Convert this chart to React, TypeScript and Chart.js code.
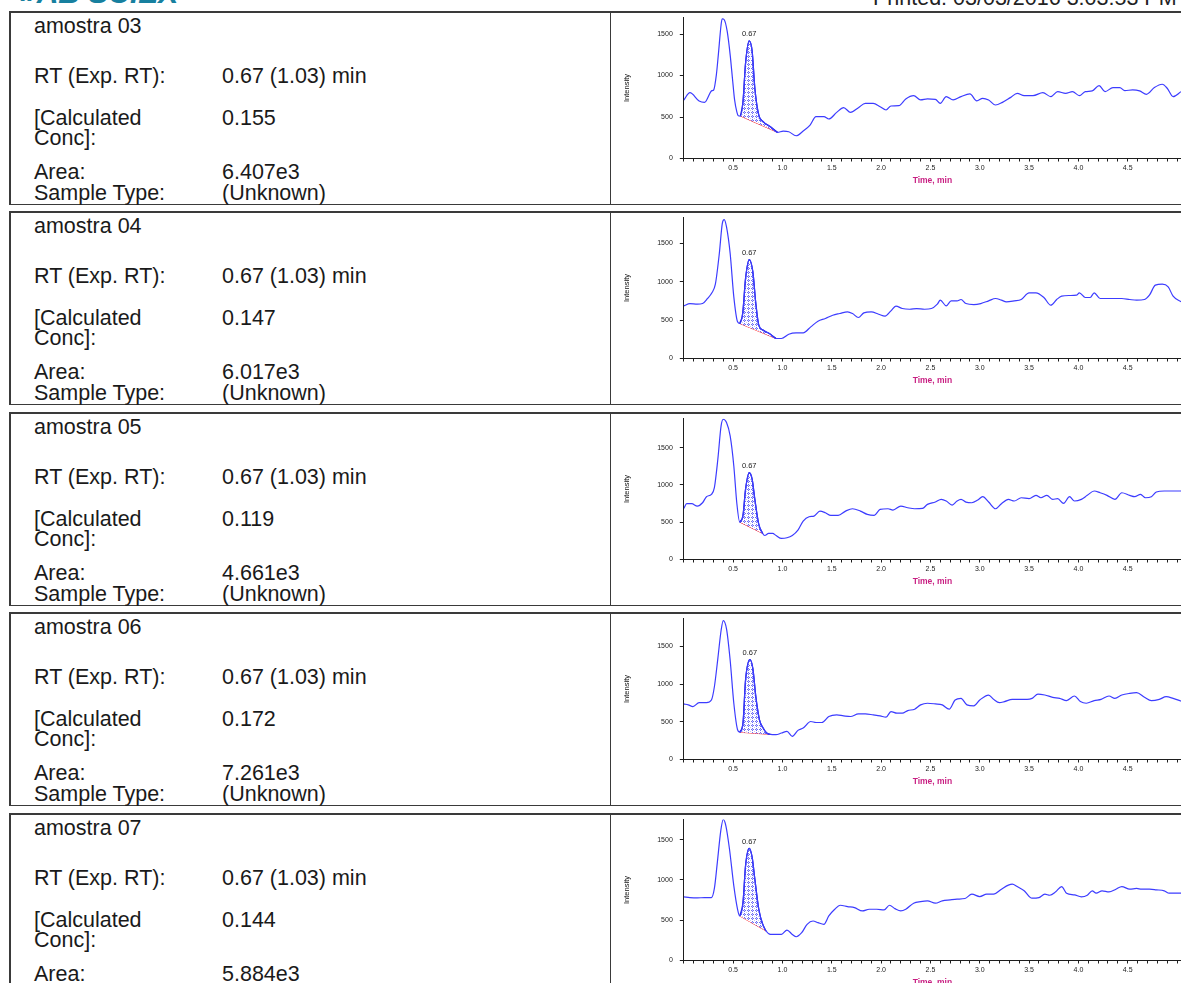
import React, { useEffect, useRef } from 'react';
import { Chart, registerables } from 'chart.js';
Chart.register(...registerables);

const FONT = '"Liberation Sans", Arial, sans-serif';

// ---- text table data ----
const sampleNames = ['amostra 03', 'amostra 04', 'amostra 05', 'amostra 06', 'amostra 07'];
const rtValues = ['0.67 (1.03) min', '0.67 (1.03) min', '0.67 (1.03) min', '0.67 (1.03) min', '0.67 (1.03) min'];
const concValues = ['0.155', '0.147', '0.119', '0.172', '0.144'];
const areaValues = ['6.407e3', '6.017e3', '4.661e3', '7.261e3', '5.884e3'];
const sampleTypes = ['(Unknown)', '(Unknown)', '(Unknown)', '(Unknown)', '(Unknown)'];

// ---- axis labels ----
const xTickLabels = ['0.5', '1.0', '1.5', '2.0', '2.5', '3.0', '3.5', '4.0', '4.5'];
const yTickValues = [0, 500, 1000, 1500];
const xTitle = 'Time, min';
const yTitle = 'Intensity';
const peakLabels = ['0.67', '0.67', '0.67', '0.67', '0.67'];

// ---- chromatogram series ----
const time03 = [0, 0.062, 0.155, 0.21, 0.285, 0.303, 0.33, 0.35, 0.378, 0.389, 0.41, 0.44, 0.47, 0.493, 0.515, 0.537, 0.552, 0.574, 0.6, 0.626, 0.663, 0.693, 0.72, 0.76, 0.804, 0.878, 0.95, 1.008, 1.064, 1.138, 1.21, 1.28, 1.34, 1.42, 1.47, 1.55, 1.62, 1.69, 1.77, 1.84, 1.92, 1.99, 2.05, 2.1, 2.18, 2.25, 2.33, 2.4, 2.47, 2.55, 2.6, 2.66, 2.73, 2.81, 2.9, 2.97, 3.03, 3.09, 3.16, 3.23, 3.31, 3.38, 3.45, 3.54, 3.64, 3.72, 3.79, 3.87, 3.94, 4.01, 4.07, 4.14, 4.21, 4.27, 4.35, 4.42, 4.47, 4.55, 4.62, 4.69, 4.77, 4.85, 4.9, 4.96, 5.04];
const intensity03 = [705, 794, 694, 677, 818, 826, 1008, 1250, 1613, 1685, 1673, 1532, 1250, 968, 706, 565, 516, 512, 685, 1149, 1419, 1290, 847, 524, 444, 383, 315, 331, 323, 274, 331, 403, 504, 504, 476, 556, 613, 556, 613, 665, 665, 625, 585, 633, 637, 718, 758, 706, 718, 714, 665, 746, 706, 746, 778, 694, 726, 706, 645, 677, 734, 786, 758, 758, 794, 746, 806, 786, 806, 758, 806, 815, 879, 806, 855, 855, 818, 827, 815, 774, 855, 895, 847, 746, 806];

const time04 = [0, 0.062, 0.137, 0.19, 0.24, 0.285, 0.32, 0.36, 0.39, 0.41, 0.433, 0.47, 0.507, 0.545, 0.567, 0.597, 0.626, 0.663, 0.7, 0.73, 0.76, 0.804, 0.878, 0.934, 0.99, 1.064, 1.138, 1.21, 1.287, 1.36, 1.435, 1.51, 1.58, 1.66, 1.71, 1.77, 1.825, 1.9, 1.975, 2.04, 2.1, 2.15, 2.215, 2.29, 2.36, 2.44, 2.51, 2.57, 2.6, 2.66, 2.71, 2.77, 2.81, 2.86, 2.94, 3.01, 3.09, 3.16, 3.22, 3.27, 3.35, 3.42, 3.5, 3.57, 3.65, 3.72, 3.78, 3.83, 3.91, 3.98, 4.01, 4.07, 4.12, 4.16, 4.22, 4.29, 4.37, 4.44, 4.52, 4.59, 4.67, 4.72, 4.78, 4.85, 4.91, 4.96, 5.04];
const intensity04 = [687, 717, 709, 717, 783, 857, 970, 1370, 1761, 1813, 1717, 1370, 804, 478, 457, 587, 1043, 1291, 1130, 717, 435, 370, 317, 261, 261, 317, 335, 335, 413, 487, 522, 565, 587, 609, 587, 535, 596, 609, 578, 552, 622, 683, 652, 643, 652, 643, 652, 709, 761, 687, 752, 752, 770, 717, 704, 717, 752, 783, 761, 739, 752, 770, 857, 857, 796, 696, 770, 813, 822, 826, 857, 796, 796, 857, 783, 783, 783, 783, 770, 761, 770, 826, 957, 970, 935, 813, 740];

const time05 = [0, 0.03, 0.08, 0.137, 0.19, 0.23, 0.28, 0.31, 0.345, 0.378, 0.4, 0.433, 0.47, 0.507, 0.537, 0.567, 0.6, 0.626, 0.663, 0.693, 0.72, 0.76, 0.8, 0.82, 0.86, 0.9, 0.935, 0.99, 1.046, 1.1, 1.157, 1.21, 1.27, 1.32, 1.38, 1.435, 1.49, 1.565, 1.64, 1.71, 1.79, 1.86, 1.93, 1.99, 2.07, 2.12, 2.2, 2.27, 2.34, 2.42, 2.47, 2.55, 2.61, 2.66, 2.72, 2.77, 2.81, 2.86, 2.92, 2.98, 3.03, 3.09, 3.16, 3.22, 3.29, 3.35, 3.42, 3.5, 3.57, 3.62, 3.68, 3.74, 3.79, 3.85, 3.91, 3.96, 4.03, 4.09, 4.16, 4.22, 4.29, 4.37, 4.44, 4.52, 4.57, 4.63, 4.68, 4.74, 4.79, 4.87, 4.94, 5.04];
const intensity05 = [685, 748, 748, 716, 761, 842, 873, 963, 1343, 1791, 1880, 1836, 1656, 1254, 761, 501, 591, 940, 1164, 1074, 806, 470, 349, 322, 349, 349, 322, 282, 291, 322, 394, 515, 573, 582, 649, 627, 591, 591, 649, 680, 649, 604, 591, 671, 680, 663, 716, 694, 680, 685, 739, 770, 806, 784, 730, 784, 806, 770, 761, 797, 842, 770, 680, 748, 806, 784, 828, 815, 860, 828, 860, 806, 815, 752, 842, 784, 806, 860, 918, 895, 860, 806, 895, 860, 842, 873, 828, 842, 904, 918, 918, 918];

const time06 = [0, 0.045, 0.093, 0.155, 0.23, 0.28, 0.31, 0.345, 0.378, 0.4, 0.433, 0.47, 0.507, 0.545, 0.567, 0.6, 0.626, 0.67, 0.7, 0.73, 0.767, 0.804, 0.84, 0.878, 0.934, 0.99, 1.046, 1.1, 1.157, 1.21, 1.287, 1.34, 1.4, 1.47, 1.55, 1.62, 1.69, 1.77, 1.84, 1.92, 1.99, 2.05, 2.1, 2.16, 2.215, 2.27, 2.34, 2.4, 2.47, 2.55, 2.62, 2.69, 2.75, 2.81, 2.87, 2.94, 3.0, 3.09, 3.14, 3.2, 3.25, 3.33, 3.4, 3.48, 3.53, 3.59, 3.66, 3.74, 3.81, 3.88, 3.96, 4.02, 4.08, 4.16, 4.23, 4.31, 4.37, 4.44, 4.52, 4.59, 4.67, 4.74, 4.82, 4.89, 4.96, 5.04];
const intensity06 = [737, 724, 702, 754, 754, 789, 965, 1338, 1711, 1842, 1732, 1316, 746, 395, 362, 482, 1053, 1325, 1206, 833, 526, 417, 351, 333, 329, 351, 373, 307, 386, 417, 504, 491, 491, 570, 592, 579, 570, 605, 605, 592, 579, 561, 636, 614, 614, 649, 667, 724, 746, 737, 724, 667, 789, 811, 724, 711, 789, 855, 798, 754, 768, 798, 798, 798, 811, 868, 855, 825, 811, 781, 842, 768, 746, 781, 798, 842, 811, 855, 877, 886, 825, 781, 798, 833, 811, 775];

const time07 = [0, 0.062, 0.137, 0.21, 0.28, 0.31, 0.34, 0.375, 0.4, 0.426, 0.463, 0.507, 0.545, 0.567, 0.6, 0.626, 0.663, 0.693, 0.72, 0.76, 0.8, 0.834, 0.878, 0.934, 0.99, 1.046, 1.1, 1.14, 1.195, 1.25, 1.31, 1.36, 1.42, 1.47, 1.53, 1.585, 1.66, 1.73, 1.81, 1.88, 1.955, 2.03, 2.085, 2.14, 2.2, 2.25, 2.33, 2.4, 2.47, 2.55, 2.62, 2.7, 2.77, 2.85, 2.92, 3.0, 3.07, 3.14, 3.22, 3.29, 3.33, 3.38, 3.45, 3.53, 3.6, 3.66, 3.71, 3.77, 3.83, 3.88, 3.96, 4.03, 4.09, 4.14, 4.18, 4.24, 4.31, 4.38, 4.44, 4.52, 4.59, 4.64, 4.72, 4.79, 4.87, 4.92, 5.04];
const intensity07 = [790, 781, 777, 781, 781, 894, 1218, 1612, 1750, 1675, 1384, 927, 636, 553, 719, 1176, 1392, 1280, 1010, 636, 449, 366, 324, 324, 324, 378, 324, 295, 345, 449, 490, 470, 449, 553, 636, 686, 669, 657, 615, 636, 636, 628, 686, 644, 615, 636, 711, 731, 740, 711, 740, 752, 761, 769, 823, 794, 823, 823, 885, 935, 948, 918, 865, 773, 781, 823, 810, 852, 918, 835, 815, 790, 810, 865, 835, 865, 852, 885, 918, 885, 894, 885, 885, 877, 865, 835, 835];

// ---- peak integration windows ----
const peakStarts = [0.574, 0.567, 0.567, 0.567, 0.567];
const peakEnds = [0.95, 0.934, 0.8, 0.878, 0.834];
const apexTimes = [0.663, 0.663, 0.663, 0.67, 0.663];
const yMaxes = [1700, 1840, 1890, 1870, 1750];

const times = [time03, time04, time05, time06, time07];
const intensities = [intensity03, intensity04, intensity05, intensity06, intensity07];

const ROW_TOPS = [10.5, 211, 411.5, 612, 812.5];
const BOX_H = 194;
const CANVAS_W = 570;

function makePattern(ctx: CanvasRenderingContext2D) {
  const c = document.createElement('canvas');
  c.width = 4;
  c.height = 4;
  const p = c.getContext('2d')!;
  p.fillStyle = '#ffffff';
  p.fillRect(0, 0, 4, 4);
  p.fillStyle = '#6f6ff5';
  p.fillRect(1, 0, 1, 1);
  p.fillRect(0, 1, 1, 1);
  p.fillRect(2, 1, 1, 1);
  p.fillRect(1, 2, 1, 1);
  p.fillStyle = '#c8c8ff';
  p.fillRect(3, 3, 1, 1);
  p.fillRect(1, 1, 1, 1);
  return ctx.createPattern(c, 'repeat');
}

const peakLabelPlugin = {
  id: 'peakLabel',
  afterDatasetsDraw(chart: any, _args: any, opts: any) {
    if (!opts || !opts.text) return;
    const { ctx, scales } = chart;
    const px = scales.x.getPixelForValue(opts.x);
    const py = scales.y.getPixelForValue(opts.y);
    ctx.save();
    ctx.font = `7.5px ${FONT}`;
    ctx.fillStyle = '#222';
    ctx.textAlign = 'center';
    ctx.textBaseline = 'bottom';
    ctx.fillText(opts.text, px, py - 3);
    ctx.restore();
  },
};

function Chromatogram({ idx }: { idx: number }) {
  const ref = useRef<HTMLCanvasElement>(null);
  useEffect(() => {
    const canvas = ref.current!;
    const ctx = canvas.getContext('2d')!;
    const t = times[idx];
    const v = intensities[idx];
    const trace = t.map((x, i) => ({ x, y: v[i] }));
    const s = peakStarts[idx];
    const e = peakEnds[idx];
    const peak = trace.filter((p) => p.x >= s - 1e-9 && p.x <= e + 1e-9);
    const base = [peak[0], peak[peak.length - 1]];
    const apexI = t.indexOf(apexTimes[idx]);
    const pattern = makePattern(ctx);

    const chart = new Chart(canvas, {
      type: 'line',
      data: {
        datasets: [
          {
            data: trace,
            borderColor: '#3c3cff',
            borderWidth: 1.2,
            pointRadius: 0,
            cubicInterpolationMode: 'monotone',
            fill: false,
          },
          {
            data: peak,
            borderColor: '#1a1ad8',
            borderWidth: 1.3,
            pointRadius: 0,
            cubicInterpolationMode: 'monotone',
            backgroundColor: pattern as any,
            fill: '+1',
          },
          {
            data: base,
            borderColor: '#ff2a2a',
            borderWidth: 1,
            pointRadius: 0,
            fill: false,
          },
        ],
      },
      options: {
        animation: false,
        responsive: false,
        devicePixelRatio: 1,
        events: [],
        layout: { padding: { top: 6.5, left: 0, right: 0, bottom: 0 } },
        plugins: {
          legend: { display: false },
          tooltip: { enabled: false },
          // @ts-ignore
          peakLabel: { text: peakLabels[idx], x: apexTimes[idx], y: v[apexI] },
        },
        scales: {
          x: {
            type: 'linear',
            min: 0,
            max: 5.04,
            afterFit: (sc: any) => {
              sc.height = BOX_H - 147.5;
              sc.paddingLeft = 0;
              sc.paddingRight = 0;
            },
            border: { display: true, color: '#1e1e1e', width: 1 },
            grid: { display: true, drawOnChartArea: false, drawTicks: true, tickLength: 3, color: '#1e1e1e' },
            ticks: {
              stepSize: 0.1,
              autoSkip: false,
              maxRotation: 0,
              minRotation: 0,
              includeBounds: false,
              padding: 2,
              color: '#222',
              font: { family: FONT, size: 7 },
              callback: (val: any) => {
                const n = Number(val);
                const lbl = n.toFixed(1);
                if (Math.abs(n * 10 - Math.round(n * 10)) > 1e-6) return '';
                return xTickLabels.includes(lbl) ? lbl : '';
              },
            },
            title: {
              display: true,
              text: xTitle,
              color: '#c81f82',
              font: { family: FONT, size: 8.5, weight: 'bold' },
              padding: { top: 0, bottom: 19 },
            },
          },
          y: {
            type: 'linear',
            min: 0,
            max: yMaxes[idx],
            afterBuildTicks: (sc: any) => {
              sc.ticks = yTickValues.map((value) => ({ value }));
            },
            afterFit: (sc: any) => {
              sc.width = 72.8;
              sc.paddingTop = 0;
              sc.paddingBottom = 0;
            },
            border: { display: true, color: '#1e1e1e', width: 1 },
            grid: { display: true, drawOnChartArea: false, drawTicks: true, tickLength: 4, color: '#1e1e1e' },
            ticks: {
              autoSkip: false,
              padding: 7,
              color: '#222',
              font: { family: FONT, size: 7 },
              callback: (val: any) => String(Math.round(Number(val))),
            },
            title: {
              display: true,
              text: yTitle,
              color: '#111',
              font: { family: FONT, size: 7.5 },
              padding: { top: 11.6, bottom: 0 },
            },
          },
        },
      },
      plugins: [peakLabelPlugin as any],
    } as any);
    return () => chart.destroy();
  }, [idx]);
  return (
    <canvas
      ref={ref}
      width={CANVAS_W}
      height={BOX_H}
      style={{ position: 'absolute', left: 611, top: ROW_TOPS[idx], width: CANVAS_W, height: BOX_H, zIndex: 2 }}
    />
  );
}

const textStyle: React.CSSProperties = {
  position: 'absolute',
  fontFamily: FONT,
  fontSize: 21.5,
  lineHeight: '20px',
  color: '#1a1a1a',
  whiteSpace: 'nowrap',
};

function Row({ idx }: { idx: number }) {
  const T = ROW_TOPS[idx];
  const line = (text: string, x: number, cy: number, key: string) => (
    <div key={key} style={{ ...textStyle, left: x, top: T + cy - 10 }}>
      {text}
    </div>
  );
  return (
    <>
      <div
        style={{
          position: 'absolute',
          left: 9,
          top: T,
          width: 1300,
          height: BOX_H,
          boxSizing: 'border-box',
          borderTop: '2px solid #3a3a3a',
          borderLeft: '2px solid #3a3a3a',
          borderBottom: '1px solid #3a3a3a',
        }}
      />
      <div style={{ position: 'absolute', left: 610, top: T, width: 1, height: BOX_H, background: '#3a3a3a' }} />
      {line(sampleNames[idx], 34, 15, 'n')}
      {line('RT (Exp. RT):', 34, 65, 'rt')}
      {line(rtValues[idx], 222, 65, 'rtv')}
      {line('[Calculated', 34, 107, 'c1')}
      {line('Conc]:', 34, 127, 'c2')}
      {line(concValues[idx], 222, 107, 'cv')}
      {line('Area:', 34, 161, 'a')}
      {line(areaValues[idx], 222, 161, 'av')}
      {line('Sample Type:', 34, 182, 's')}
      {line(sampleTypes[idx], 222, 182, 'sv')}
      <Chromatogram idx={idx} />
    </>
  );
}

export default function App() {
  return (
    <div
      style={{
        position: 'fixed',
        left: 0,
        top: 0,
        width: 1181,
        height: 983,
        overflow: 'hidden',
        background: '#fff',
      }}
    >
      <div
        style={{
          position: 'absolute',
          left: 20,
          top: -22,
          fontFamily: FONT,
          fontSize: 30,
          lineHeight: '30px',
          fontWeight: 'bold',
          fontStyle: 'italic',
          color: '#17809f',
          whiteSpace: 'nowrap',
        }}
      >
        »AB SCIEX
      </div>
      <div
        style={{
          position: 'absolute',
          left: 873,
          top: -12,
          fontFamily: FONT,
          fontSize: 21.5,
          lineHeight: '20px',
          color: '#222',
          whiteSpace: 'nowrap',
        }}
      >
        Printed: 03/03/2016 3:03:53 PM
      </div>
      {sampleNames.map((_, i) => (
        <Row key={i} idx={i} />
      ))}
    </div>
  );
}
